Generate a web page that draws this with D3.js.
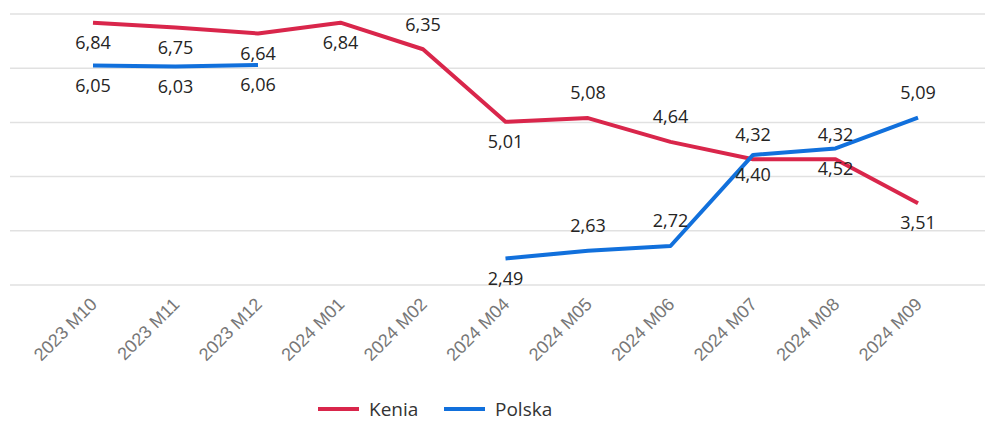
<!DOCTYPE html>
<html lang="pl">
<head>
<meta charset="UTF-8">
<title>Kenia / Polska</title>
<script src="https://d3js.org/d3.v7.min.js"></script>
<style>
    body { margin: 0; background: #fff; font-family: 'Open Sans', 'Noto Sans', sans-serif; }
    svg { display: block; }
    .grid line { stroke: #e1e1e1; stroke-width: 1.5; }
    .xlab { fill: #777; font-size: 18px; }
    .dlab { fill: #252423; font-size: 18px; }
    .leg { fill: #333; font-size: 19px; }
</style>
</head>
<body>
<svg id="chart" width="985" height="421"></svg>
<script>
    // Data
    const months = ["2023 M10", "2023 M11", "2023 M12", "2024 M01", "2024 M02", "2024 M04",
                    "2024 M05", "2024 M06", "2024 M07", "2024 M08", "2024 M09"];
    const kenia  = [6.84, 6.75, 6.64, 6.84, 6.35, 5.01, 5.08, 4.64, 4.32, 4.32, 3.51];
    const polska = [6.05, 6.03, 6.06, null, null, 2.49, 2.63, 2.72, 4.40, 4.52, 5.09];
    const yTicks = [2, 3, 4, 5, 6, 7];

    // where each data label sits (a = above the line, b = below)
    const keniaLabelSide  = ["b", "b", "b", "b", "a", "b", "a", "a", "a", "a", "b"];
    const polskaLabelSide = ["b", "b", "b", "b", "b", "b", "a", "a", "b", "b", "a"];

    const series = [
        { name: "Kenia", values: kenia, sides: keniaLabelSide, color: "#d9264b" },
        { name: "Polska", values: polska, sides: polskaLabelSide, color: "#1170dc" }
    ];

    const svg = d3.select("#chart");

    const x = d3.scalePoint().domain(months).range([93, 918]);
    const y = d3.scaleLinear().domain([2, 7]).range([285, 14]);

    // Gridlines
    svg.append("g").attr("class", "grid")
        .selectAll("line").data(yTicks).join("line")
        .attr("x1", 10).attr("x2", 985)
        .attr("y1", d => y(d)).attr("y2", d => y(d));

    // X axis labels (rotated)
    const xAxis = svg.append("g")
        .attr("transform", "translate(0,300)")
        .call(d3.axisBottom(x).tickSize(0).tickPadding(0));
    xAxis.select(".domain").remove();
    xAxis.selectAll(".tick text")
        .attr("class", "xlab")
        .attr("fill", null)
        .style("font-family", null)
        .attr("text-anchor", "end")
        .attr("y", 0)
        .attr("dy", "0.35em")
        .attr("transform", "translate(0,1) rotate(-45)");

    // Lines
    const line = d3.line()
        .defined(d => d != null)
        .x((d, i) => x(months[i]))
        .y(d => y(d));

    series.forEach(s => {
        svg.append("path")
            .datum(s.values)
            .attr("fill", "none")
            .attr("stroke", s.color)
            .attr("stroke-width", 4)
            .attr("stroke-linejoin", "round")
            .attr("d", line);
    });

    // Data labels
    const fmt = v => v.toFixed(2).replace(".", ",");
    series.forEach(s => {
        svg.append("g")
            .selectAll("text")
            .data(s.values.map((v, i) => ({ v, i })).filter(d => d.v != null))
            .join("text")
            .attr("class", "dlab")
            .attr("text-anchor", "middle")
            .attr("x", d => x(months[d.i]))
            .attr("y", d => y(d.v) + (s.sides[d.i] === "a" ? -25 : 20))
            .attr("dy", "0.35em")
            .text(d => fmt(d.v));
    });

    // Legend
    const legend = svg.append("g").attr("transform", "translate(318,409)");
    const legX = [0, 126];
    series.forEach((s, i) => {
        const g = legend.append("g").attr("transform", `translate(${legX[i]},0)`);
        g.append("line")
            .attr("x1", 0).attr("x2", 41)
            .attr("stroke", s.color).attr("stroke-width", 4);
        g.append("text")
            .attr("class", "leg")
            .attr("x", 51)
            .attr("dy", "0.35em")
            .text(s.name);
    });
</script>
</body>
</html>
